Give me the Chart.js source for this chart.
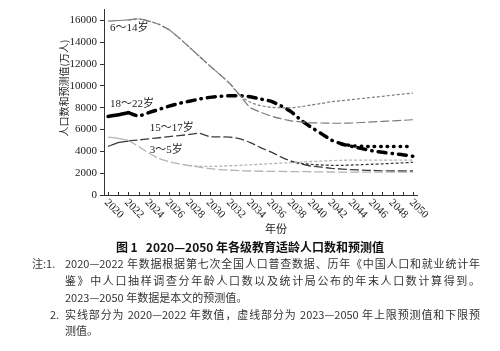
<!DOCTYPE html>
<html>
<head>
<meta charset="utf-8">
<script src="https://cdn.jsdelivr.net/npm/chart.js@4.4.0/dist/chart.umd.min.js"></script>
<style>
body { margin: 0; background: #fff; }
#wrap { position: relative; width: 500px; height: 351px; overflow: hidden; font-family: "Noto Sans CJK SC", sans-serif; }
#box { position: absolute; left: 0; top: 0; width: 500px; height: 236px; }
.ln { position: absolute; font-size: 11px; line-height: 17px; color: #333; white-space: nowrap; }
.j { text-align: justify; text-align-last: justify; width: 415px; }
.ttl { position: absolute; left: 0; width: 500px; text-align: center; font-size: 12px; font-weight: bold; line-height: 17px; color: #111; }
.ytl { position: absolute; left: 14px; top: 82px; width: 100px; text-align: center; font-size: 10px; line-height: 12px; color: #222; transform: rotate(-90deg); white-space: nowrap; }
.xtl { position: absolute; left: 265px; top: 220px; font-size: 11px; line-height: 16px; color: #222; }
</style>
</head>
<body>
<div id="wrap">
  <div id="box"><canvas id="pop"></canvas></div>
  <div class="ytl">人口数和预测值(万人)</div>
  <div class="xtl">年份</div>
  <div class="ttl" style="top:238px">图 1&nbsp;&nbsp;&nbsp;2020—2050 年各级教育适龄人口数和预测值</div>
  <div class="ln" style="left:32px;top:255px">注:1.</div>
  <div class="ln j" style="left:65px;top:255px">2020—2022 年数据根据第七次全国人口普查数据、历年《中国人口和就业统计年</div>
  <div class="ln j" style="left:65px;top:272px">鉴》中人口抽样调查分年龄人口数以及统计局公布的年末人口数计算得到。</div>
  <div class="ln" style="left:65px;top:289px">2023—2050 年数据是本文的预测值。</div>
  <div class="ln" style="left:50px;top:306px">2.</div>
  <div class="ln j" style="left:65px;top:306px">实线部分为 2020—2022 年数值，虚线部分为 2023—2050 年上限预测值和下限预</div>
  <div class="ln" style="left:65px;top:322px">测值。</div>
</div>
<script>
const actualYears = [2020, 2021, 2022];
const projYears = [2022, 2023, 2024, 2025, 2026, 2027, 2028, 2029, 2030, 2031, 2032, 2033, 2034, 2035, 2036,
    2037, 2038, 2039, 2040, 2041, 2042, 2043, 2044, 2045, 2046, 2047, 2048, 2049, 2050];
const tickYears = [2020, 2022, 2024, 2026, 2028, 2030, 2032, 2034, 2036, 2038, 2040, 2042, 2044, 2046, 2048, 2050];
const yTicks = [0, 2000, 4000, 6000, 8000, 10000, 12000, 14000, 16000];

// 6~14岁
const age6to14Actual = [15950, 16000, 16050];
const age6to14Low = [16050, 16150, 15950, 15650, 15150, 14400, 13550, 12700, 11850, 11050, 10200, 9100, 8000, 7600,
    7250, 7000, 6800, 6700, 6620, 6600, 6580, 6580, 6600, 6650, 6700, 6750, 6800, 6850, 6900];
const age6to14High = [16050, 16150, 15950, 15650, 15150, 14400, 13550, 12700, 11850, 11050, 10200, 9100, 8500, 8200,
    8050, 8000, 8000, 8100, 8250, 8400, 8550, 8650, 8750, 8850, 8950, 9050, 9150, 9250, 9350];

// 18~22岁
const age18to22Actual = [7200, 7350, 7550];
const age18to22Low = [7550, 7250, 7550, 7850, 8150, 8400, 8600, 8800, 8950, 9050, 9100, 9100, 9000, 8800,
    8600, 8180, 7650, 6850, 6200, 5620, 5030, 4680, 4450, 4250, 4050, 3920, 3800, 3700, 3550];
const age18to22High = [null, null, null, null, null, null, null, null, null, null, null, null, null, null,
    null, null, null, null, null, null, null, 4680, 4520, 4470, 4450, 4450, 4450, 4450, 4450];

// 15~17岁
const age15to17Actual = [4450, 4800, 4950];
const age15to17Low = [4950, 5050, 5150, 5250, 5350, 5450, 5550, 5650, 5350, 5330, 5300, 5150, 4800, 4350,
    3950, 3500, 3100, 2850, 2650, 2550, 2450, 2380, 2320, 2280, 2250, 2220, 2200, 2200, 2200];
const age15to17High = [null, null, null, null, null, null, null, null, null, null, null, null, null, null,
    null, null, 3100, 2900, 2800, 2750, 2720, 2720, 2750, 2780, 2820, 2860, 2900, 2950, 3000];

// 3~5岁
const age3to5Actual = [5300, 5200, 5000];
const age3to5Low = [5000, 4450, 3850, 3350, 3050, 2850, 2700, 2550, 2420, 2330, 2270, 2230, 2200, 2180,
    2170, 2160, 2150, 2140, 2130, 2120, 2110, 2100, 2100, 2100, 2100, 2100, 2100, 2100, 2100];
const age3to5High = [null, null, null, null, null, null, 2700, 2640, 2620, 2640, 2680, 2720, 2770, 2820,
    2870, 2920, 2970, 3020, 3070, 3110, 3150, 3180, 3200, 3200, 3200, 3200, 3200, 3200, 3200];

const seriesNames = ['6～14岁', '18～22岁', '15～17岁', '3～5岁'];

const pts = (xs, ys) => xs.map((x, i) => ({ x: x, y: ys[i] }));

function line(xs, ys, color, width, dash, cap) {
    return {
        data: pts(xs, ys),
        borderColor: color,
        borderWidth: width,
        borderDash: dash || [],
        borderCapStyle: cap || 'butt',
        pointRadius: 0,
        tension: 0.2,
        fill: false
    };
}

const c614 = '#7d7d7d', c1517 = '#3c3c3c', c35 = '#b4b4b4';

const decor = {
    id: 'decor',
    afterDraw(chart) {
        const { ctx, scales: { x, y } } = chart;
        const base = y.getPixelForValue(0);
        ctx.save();
        // inward ticks on the x axis
        ctx.strokeStyle = '#333';
        ctx.lineWidth = 1;
        for (let yr = 2020; yr <= 2050; yr++) {
            const px = Math.round(x.getPixelForValue(yr)) + 0.5;
            ctx.beginPath();
            ctx.moveTo(px, base);
            ctx.lineTo(px, base - 3);
            ctx.stroke();
        }
        // rotated year labels
        ctx.fillStyle = '#222';
        ctx.font = '11px "Liberation Serif"';
        ctx.textAlign = 'left';
        ctx.textBaseline = 'middle';
        tickYears.forEach(yr => {
            ctx.save();
            ctx.translate(x.getPixelForValue(yr) - 2, base + 6);
            ctx.rotate(Math.PI / 4);
            ctx.fillText(String(yr), 0, 0);
            ctx.restore();
        });
        // series names
        const at = chart.options.plugins.decor.labelsAt;
        ctx.font = '11px "Liberation Serif", "Noto Sans CJK SC"';
        seriesNames.forEach((n, i) => {
            ctx.fillText(n, x.getPixelForValue(at[i][0]), y.getPixelForValue(at[i][1]));
        });
        ctx.restore();
    }
};

new Chart(document.getElementById('pop').getContext('2d'), {
    type: 'line',
    data: {
        datasets: [
            line(actualYears, age3to5Actual, c35, 1.3),
            line(projYears, age3to5Low, c35, 1.3, [9, 3]),
            line(projYears, age3to5High, c35, 1.3, [3, 2]),
            line(actualYears, age6to14Actual, c614, 1.2),
            line(projYears, age6to14Low, c614, 1.2, [9, 3]),
            line(projYears, age6to14High, c614, 1.2, [3, 2]),
            line(actualYears, age15to17Actual, c1517, 1.3),
            line(projYears, age15to17Low, c1517, 1.3, [9, 3]),
            line(projYears, age15to17High, c1517, 1.3, [3, 2]),
            line(actualYears, age18to22Actual, '#000', 3.5, [], 'round'),
            line(projYears, age18to22Low, '#000', 3.5, [8, 6, 0.5, 6], 'round'),
            line(projYears, age18to22High, '#000', 3.5, [0.5, 6], 'round')
        ]
    },
    options: {
        responsive: true,
        maintainAspectRatio: false,
        animation: false,
        layout: { padding: { left: 0, right: 83, top: 8, bottom: 0 } },
        plugins: {
            legend: { display: false },
            tooltip: { enabled: false },
            decor: { labelsAt: [[2020.2, 15300], [2020.2, 8300], [2024.1, 6100], [2024.1, 4100]] }
        },
        scales: {
            x: {
                type: 'linear',
                min: 2019.6,
                max: 2050.4,
                grid: { display: false },
                border: { color: '#333' },
                ticks: { display: false },
                afterFit: s => { s.height = 41; }
            },
            y: {
                min: 0,
                max: 17000,
                afterBuildTicks: s => { s.ticks = yTicks.map(v => ({ value: v })); },
                afterFit: s => { s.width = 104; },
                grid: { drawOnChartArea: false, tickLength: 4, color: '#333' },
                border: { color: '#333' },
                ticks: {
                    padding: 3,
                    color: '#222',
                    font: { family: 'Liberation Serif', size: 11 },
                    callback: v => String(v)
                }
            }
        }
    },
    plugins: [decor]
});
</script>
</body>
</html>
